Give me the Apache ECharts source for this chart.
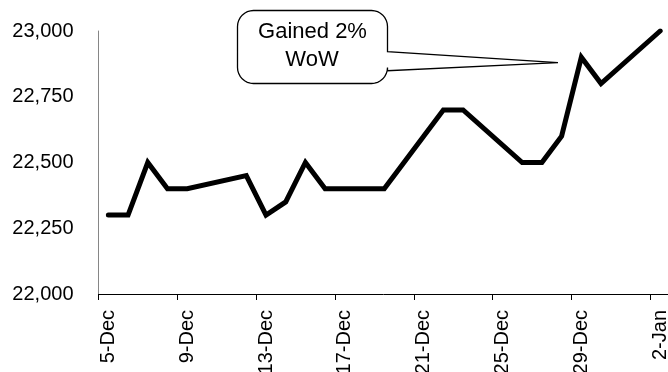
<!DOCTYPE html>
<html>
<head>
<meta charset="utf-8">
<script src="https://cdn.jsdelivr.net/npm/echarts@6/dist/echarts.min.js"></script>
<style>
  html, body { margin: 0; padding: 0; background: #fff; }
  #chart { width: 668px; height: 372px; }
</style>
</head>
<body>
<div id="chart"></div>
<script>
// Daily index level, 5-Dec to 2-Jan (weekends left empty and bridged)
const days = [
  '5-Dec', '6-Dec', '7-Dec', '8-Dec', '9-Dec', '10-Dec', '11-Dec',
  '12-Dec', '13-Dec', '14-Dec', '15-Dec', '16-Dec', '17-Dec', '18-Dec',
  '19-Dec', '20-Dec', '21-Dec', '22-Dec', '23-Dec', '24-Dec', '25-Dec',
  '26-Dec', '27-Dec', '28-Dec', '29-Dec', '30-Dec', '31-Dec', '1-Jan', '2-Jan'
];
const level = [
  22300, 22300, 22500, 22400, 22400, null, null,
  22450, 22300, 22350, 22500, 22400, null, null,
  22400, 22500, 22600, 22700, 22700, null, null,
  22500, 22500, 22600, 22900, 22800, null, null, 23000
];
const yMin = 22000, yMax = 23000, yStep = 250;
const calloutLines = ['Gained 2%', 'WoW'];

const FONT = '"Liberation Sans", Arial, sans-serif';
const fmt = v => v.toString().replace(/\B(?=(\d{3})+(?!\d))/g, ',');

const chart = echarts.init(document.getElementById('chart'), null, { renderer: 'canvas' });

// Callout bubble outline: rounded box plus a wedge on its right side
function bubblePoints(L, T, R, B, r, w1, w2, tip) {
  const pts = [];
  const arc = (cx, cy, a0, a1) => {
    const n = 8;
    for (let i = 0; i <= n; i++) {
      const a = a0 + (a1 - a0) * i / n;
      pts.push([cx + r * Math.cos(a), cy + r * Math.sin(a)]);
    }
  };
  const P = Math.PI;
  arc(L + r, T + r, P, 1.5 * P);        // top-left
  arc(R - r, T + r, 1.5 * P, 2 * P);    // top-right
  pts.push([R, w1], tip, [R, w2]);      // wedge
  arc(R - r, B - r, 0, 0.5 * P);        // bottom-right
  arc(L + r, B - r, 0.5 * P, P);        // bottom-left
  return pts;
}
const bubble = bubblePoints(237.5, 10.5, 387.5, 83.5, 16, 51.7, 70.7, [558, 62.7]);

chart.setOption({
  animation: false,
  backgroundColor: '#ffffff',
  grid: { left: 98.5, top: 31, width: 571.5, bottom: 78, outerBoundsMode: 'none', containLabel: false },
  xAxis: {
    type: 'category',
    data: days,
    boundaryGap: true,
    axisLine: { lineStyle: { color: '#000', width: 1 } },
    axisTick: { show: true, interval: 3, length: 6, alignWithLabel: false, lineStyle: { color: '#000' } },
    axisLabel: {
      interval: 3, rotate: 90, margin: 16,
      color: '#000', fontFamily: FONT, fontSize: 20
    },
    splitLine: { show: false }
  },
  yAxis: {
    type: 'value',
    min: yMin, max: yMax, interval: yStep,
    axisLine: { show: true, lineStyle: { color: '#868686', width: 1 } },
    axisTick: { show: false },
    splitLine: { show: false },
    axisLabel: {
      margin: 25, color: '#000', fontFamily: FONT, fontSize: 20,
      formatter: v => fmt(v)
    }
  },
  series: [{
    type: 'line',
    data: level,
    connectNulls: true,
    showSymbol: false,
    symbol: 'none',
    lineStyle: { color: '#000', width: 5, join: 'miter', cap: 'round' }
  }],
  graphic: [
    {
      type: 'polygon', z: 100,
      shape: { points: bubble },
      style: { fill: '#fff', stroke: '#000', lineWidth: 1.3, lineJoin: 'miter' }
    },
    {
      type: 'text', z: 101, x: 312.5, y: 31.5,
      style: { text: calloutLines[0], fill: '#000', font: '22px ' + FONT, align: 'center', verticalAlign: 'middle' }
    },
    {
      type: 'text', z: 101, x: 312, y: 59.5,
      style: { text: calloutLines[1], fill: '#000', font: '22px ' + FONT, align: 'center', verticalAlign: 'middle' }
    }
  ]
});
</script>
</body>
</html>
